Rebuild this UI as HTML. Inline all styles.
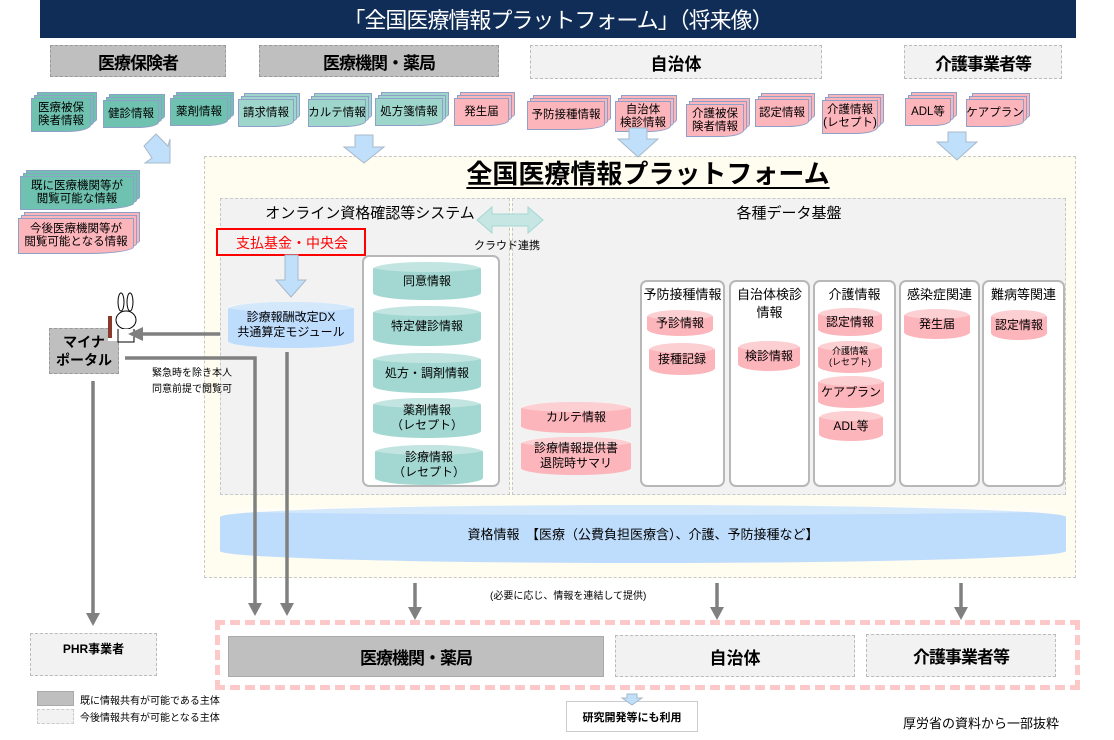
<!DOCTYPE html>
<html><head><meta charset="utf-8"><style>
*{margin:0;padding:0;box-sizing:border-box}
body{width:1114px;height:740px;position:relative;background:#fff;font-family:"Liberation Sans","Noto Sans CJK JP",sans-serif;color:#000;overflow:hidden}
.a{position:absolute}
.c{position:absolute;display:flex;align-items:center;justify-content:center;text-align:center}
.doc{position:absolute;font-size:11.5px;line-height:13px;display:flex;align-items:center;justify-content:center;text-align:center;border:1px solid #8ea0c8;border-radius:0 0 40% 0/0 0 20% 0;white-space:nowrap}
.t{background:#6fc2b0;box-shadow:3px -3px 0 -1px #6fc2b0,3px -3px 0 0 #8ea0c8,6px -6px 0 -1px #6fc2b0,6px -6px 0 0 #8ea0c8}
.lt{background:#9fd6cc;box-shadow:3px -3px 0 -1px #9fd6cc,3px -3px 0 0 #8ea0c8,6px -6px 0 -1px #9fd6cc,6px -6px 0 0 #8ea0c8}
.p{background:#fbb5bb;box-shadow:3px -3px 0 -1px #fbb5bb,3px -3px 0 0 #8ea0c8,6px -6px 0 -1px #fbb5bb,6px -6px 0 0 #8ea0c8}
.cyl{position:absolute;display:flex;align-items:center;justify-content:center;text-align:center;border-radius:50%/7px;font-size:12px;line-height:15px}
.cyl::before{content:"";position:absolute;left:0;right:0;top:0;height:10px;border-radius:50%;background:rgba(255,255,255,.35)}
.cyl span{position:relative}
.tc{background:#a3d8d2}.pc{background:#fbb5bb}.bc{background:#bedcfb}
.col{position:absolute;background:#fff;border:2px solid #b8b8b8;border-radius:7px;top:280px;height:207px}
.col .h{position:absolute;top:4px;left:0;right:0;text-align:center;font-size:13px;line-height:18px}
</style></head><body>
<div class="c" style="left:40px;top:0;width:1036px;height:38px;background:#0f2d56;color:#fff;font-size:22px;letter-spacing:-1px">「全国医療情報プラットフォーム」（将来像）</div>
<div class="c" style="left:50px;top:45px;width:176px;height:32px;background:#bfbfbf;border:1px dashed #999;font-size:17px;font-weight:bold;letter-spacing:-1px">医療保険者</div>
<div class="c" style="left:259px;top:45px;width:240px;height:32px;background:#bfbfbf;border:1px dashed #999;font-size:17px;font-weight:bold;letter-spacing:-1px">医療機関・薬局</div>
<div class="c" style="left:530px;top:45px;width:292px;height:34px;background:#f2f2f2;border:1px dashed #bbb;font-size:17px;font-weight:bold">自治体</div>
<div class="c" style="left:904px;top:45px;width:158px;height:34px;background:#f2f2f2;border:1px dashed #bbb;font-size:17px;font-weight:bold;letter-spacing:-1px">介護事業者等</div>

<!-- docs -->
<div class="doc t" style="left:31px;top:98px;width:60px;height:34px">医療被保<br>険者情報</div>
<div class="doc t" style="left:103px;top:100px;width:56px;height:28px">健診情報</div>
<div class="doc t" style="left:170px;top:98px;width:58px;height:28px">薬剤情報</div>
<div class="doc lt" style="left:238px;top:99px;width:56px;height:28px">請求情報</div>
<div class="doc lt" style="left:308px;top:99px;width:58px;height:28px">カルテ情報</div>
<div class="doc lt" style="left:375px;top:98px;width:68px;height:28px">処方箋情報</div>
<div class="doc p" style="left:454px;top:98px;width:55px;height:28px">発生届</div>
<div class="doc p" style="left:527px;top:101px;width:78px;height:29px">予防接種情報</div>
<div class="doc p" style="left:615px;top:101px;width:56px;height:31px">自治体<br>検診情報</div>
<div class="doc p" style="left:686px;top:104px;width:58px;height:33px">介護被保<br>険者情報</div>
<div class="doc p" style="left:755px;top:99px;width:54px;height:28px">認定情報</div>
<div class="doc p" style="left:822px;top:100px;width:56px;height:34px">介護情報<br>(レセプト)</div>
<div class="doc p" style="left:905px;top:98px;width:46px;height:28px">ADL等</div>
<div class="doc p" style="left:966px;top:99px;width:58px;height:28px">ケアプラン</div>
<div class="doc t" style="left:20px;top:176px;width:114px;height:34px">既に医療機関等が<br>閲覧可能な情報</div>
<div class="doc p" style="left:18px;top:218px;width:116px;height:36px">今後医療機関等が<br>閲覧可能となる情報</div>

<!-- platform -->
<div class="a" style="left:204px;top:156px;width:872px;height:422px;background:#fffcf0;border:1px dashed #c8c8c8"></div>
<div class="a" style="left:204px;top:158px;width:888px;text-align:center;font-size:26px;font-weight:bold;line-height:32px"><span style="text-decoration:underline;text-underline-offset:4px">全国医療情報プラットフォーム</span></div>
<div class="a" style="left:220px;top:198px;width:290px;height:297px;background:#f2f2f2;border:1px dashed #c8c8c8"></div>
<div class="a" style="left:512px;top:198px;width:554px;height:297px;background:#f2f2f2;border:1px dashed #c8c8c8"></div>
<div class="a" style="left:220px;top:202px;width:290px;padding-left:10px;text-align:center;font-size:15px">オンライン資格確認等システム</div>
<div class="a" style="left:512px;top:202px;width:554px;text-align:center;font-size:15px">各種データ基盤</div>
<svg class="a" style="left:475px;top:205px" width="70" height="30"><polygon points="2,15 17,2 17,9 53,9 53,2 68,15 53,28 53,21 17,21 17,28" fill="#c6e6e4" stroke="#a6d6d2"/></svg>
<div class="a" style="left:474px;top:237px;font-size:11px">クラウド連携</div>
<div class="a" style="left:216px;top:228px;width:150px;height:28px;border:2px solid #f00;color:#f00;font-size:14px;padding:3px 0 0 18px;background:#f2f2f2">支払基金・中央会</div>
<div class="a" style="left:362px;top:255px;width:138px;height:232px;background:#fff;border:2px solid #b8b8b8;border-radius:7px"></div>
<div class="cyl tc" style="left:373px;top:262px;width:108px;height:38px"><span>同意情報</span></div>
<div class="cyl tc" style="left:373px;top:306px;width:108px;height:40px"><span>特定健診情報</span></div>
<div class="cyl tc" style="left:373px;top:353px;width:108px;height:40px"><span>処方・調剤情報</span></div>
<div class="cyl tc" style="left:373px;top:398px;width:108px;height:40px"><span>薬剤情報<br>（レセプト）</span></div>
<div class="cyl tc" style="left:375px;top:445px;width:108px;height:40px"><span>診療情報<br>（レセプト）</span></div>
<div class="cyl bc" style="left:228px;top:302px;width:126px;height:46px"><span>診療報酬改定DX<br>共通算定モジュール</span></div>

<div class="col" style="left:640px;width:85px"><div class="h">予防接種情報</div></div>
<div class="col" style="left:729px;width:81px"><div class="h">自治体検診<br>情報</div></div>
<div class="col" style="left:813px;width:83px"><div class="h">介護情報</div></div>
<div class="col" style="left:899px;width:81px"><div class="h">感染症関連</div></div>
<div class="col" style="left:982px;width:83px"><div class="h">難病等関連</div></div>
<div class="cyl pc" style="left:647px;top:310px;width:66px;height:26px"><span>予診情報</span></div>
<div class="cyl pc" style="left:649px;top:343px;width:66px;height:32px"><span>接種記録</span></div>
<div class="cyl pc" style="left:738px;top:341px;width:62px;height:30px"><span>検診情報</span></div>
<div class="cyl pc" style="left:818px;top:308px;width:64px;height:28px"><span>認定情報</span></div>
<div class="cyl pc" style="left:818px;top:341px;width:64px;height:32px;font-size:9px;line-height:11px"><span>介護情報<br>(レセプト)</span></div>
<div class="cyl pc" style="left:818px;top:376px;width:66px;height:32px"><span>ケアプラン</span></div>
<div class="cyl pc" style="left:819px;top:411px;width:64px;height:30px"><span>ADL等</span></div>
<div class="cyl pc" style="left:904px;top:309px;width:66px;height:30px"><span>発生届</span></div>
<div class="cyl pc" style="left:991px;top:310px;width:56px;height:30px"><span>認定情報</span></div>
<div class="cyl pc" style="left:521px;top:402px;width:110px;height:31px"><span>カルテ情報</span></div>
<div class="cyl pc" style="left:521px;top:437px;width:110px;height:38px"><span>診療情報提供書<br>退院時サマリ</span></div>
<div class="cyl bc" style="left:220px;top:505px;width:846px;height:58px;border-radius:50%/12px;font-size:13px"><span>資格情報　【医療（公費負担医療含）、介護、予防接種など】</span></div>

<!-- bottom -->
<div class="a" style="left:215px;top:620px;width:865px;height:70px;border:5px dashed #fcc8c8"></div>
<div class="c" style="left:228px;top:636px;width:376px;height:41px;background:#bfbfbf;border:1px solid #aaa;font-size:17px;font-weight:bold;letter-spacing:-1px">医療機関・薬局</div>
<div class="c" style="left:615px;top:635px;width:240px;height:42px;background:#f2f2f2;border:1px dashed #bbb;font-size:17px;font-weight:bold">自治体</div>
<div class="c" style="left:866px;top:634px;width:190px;height:43px;background:#f2f2f2;border:1px dashed #bbb;font-size:17px;font-weight:bold;letter-spacing:-1px">介護事業者等</div>
<div class="a" style="left:30px;top:633px;width:127px;height:43px;background:#f2f2f2;border:1px dashed #bbb;font-size:12px;font-weight:bold;text-align:center;padding-top:6px">PHR事業者</div>
<div class="a" style="left:37px;top:691px;width:37px;height:15px;background:#bfbfbf;border:1px solid #aaa"></div>
<div class="a" style="left:37px;top:709px;width:37px;height:15px;background:#f2f2f2;border:1px dashed #ccc"></div>
<div class="a" style="left:80px;top:692px;font-size:10px">既に情報共有が可能である主体</div>
<div class="a" style="left:80px;top:709px;font-size:10px">今後情報共有が可能となる主体</div>
<div class="c" style="left:566px;top:701px;width:132px;height:31px;border:1px solid #ccc;font-size:11px;font-weight:bold">研究開発等にも利用</div>
<div class="a" style="left:903px;top:713px;font-size:13px">厚労省の資料から一部抜粋</div>
<div class="a" style="left:490px;top:587px;font-size:10px">(必要に応じ、情報を連結して提供)</div>
<div class="a" style="left:152px;top:366px;font-size:10px;line-height:16px">緊急時を除き本人<br>同意前提で閲覧可</div>

<!-- portal -->
<div class="c" style="left:49px;top:328px;width:70px;height:46px;background:#bfbfbf;border:1px dashed #999;font-size:14px;font-weight:bold;line-height:18px">マイナ<br>ポータル</div>
<div class="a" style="left:108px;top:293px;width:30px;height:48px;background:#fff"></div>
<svg class="a" style="left:104px;top:292px" width="36" height="52"><ellipse cx="17" cy="10" rx="3" ry="9" fill="#fff" stroke="#000"/><ellipse cx="26" cy="10" rx="3" ry="9" fill="#fff" stroke="#000"/><ellipse cx="22" cy="28" rx="10" ry="9" fill="#fff" stroke="#000"/><rect x="4" y="24" width="4" height="22" fill="#8b3a2a"/><path d="M14 37 L14 50 L30 50 L30 37" fill="#fff" stroke="#000"/></svg>

<svg class="a" style="left:0;top:0" width="1114" height="740">
<g stroke="#808080" stroke-width="3.5" fill="none">
<line x1="93" y1="381" x2="93" y2="615"/>
<polyline points="125,358 255,358 255,605"/>
<line x1="287" y1="352" x2="287" y2="605"/>
<line x1="220" y1="334" x2="140" y2="334"/>
<line x1="415" y1="583" x2="415" y2="610"/>
<line x1="717" y1="583" x2="717" y2="610"/>
<line x1="961" y1="583" x2="961" y2="610"/>
</g>
<g fill="#808080">
<polygon points="86,613 100,613 93,626"/>
<polygon points="248,603 262,603 255,616"/>
<polygon points="280,603 294,603 287,616"/>
<polygon points="143,327 143,341 128,334"/>
<polygon points="408,607 422,607 415,620"/>
<polygon points="710,607 724,607 717,620"/>
<polygon points="954,607 968,607 961,620"/>
</g>
<g fill="#bfdffb" stroke="#a8b8c8">
<polygon points="355,135 373,135 373,147 384,147 364,163 344,147 355,147"/>
<polygon points="629,128 647,128 647,139 658,139 638,157 618,139 629,139"/>
<polygon points="948,132 966,132 966,142 977,142 957,160 937,142 948,142"/>
<polygon points="285,255 298,255 298,280 306,280 291,297 276,280 285,280"/>
<polygon points="156,134 168,146 170,139 170,163 145,163 152,158 144,146"/>
<polygon points="627,694 637,694 637,698 642,698 632,705 622,698 627,698"/>
</g>
</svg>
</body></html>
